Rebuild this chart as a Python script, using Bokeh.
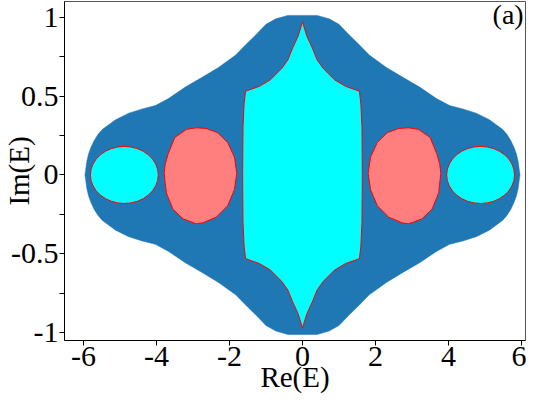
import numpy as np
from bokeh.plotting import figure
from bokeh.models import FixedTicker, Label, Range1d
from bokeh.embed import file_html
from bokeh.resources import INLINE

# ---- data (Re(E), Im(E)) ----
# outer (blue) spectrum boundary, upper-right quadrant, from top to right end
outer_re = [0.00, 0.40, 0.73, 1.00, 1.27, 1.55, 1.83, 2.30, 2.75, 3.21, 3.67,
            4.03, 4.39, 4.76, 5.12, 5.48, 5.60, 5.71, 5.80, 5.86, 5.91, 5.94, 5.96]
outer_im = [1.012, 1.012, 0.990, 0.955, 0.890, 0.827, 0.760, 0.682, 0.619, 0.557, 0.485,
            0.440, 0.419, 0.392, 0.350, 0.289, 0.258, 0.217, 0.172, 0.134, 0.085, 0.031, 0.000]

# central (cyan) region boundary, upper-right quadrant, from cusp to right edge
center_re = [0.00, 0.12, 0.27, 0.40, 0.57, 0.88, 1.18, 1.45, 1.56, 1.60, 1.63, 1.64]
center_im = [0.970, 0.880, 0.805, 0.730, 0.675, 0.603, 0.562, 0.540, 0.530, 0.450, 0.300, 0.000]

# right salmon blob outline (left blob is its mirror image)
blob_re = [1.80, 1.864, 2.05, 2.32, 2.64, 2.91, 3.18, 3.50, 3.68, 3.76, 3.79,
           3.73, 3.55, 3.27, 2.91, 2.73, 2.364, 2.05, 1.864]
blob_im = [0.010, 0.113, 0.206, 0.268, 0.295, 0.299, 0.289, 0.237, 0.134, 0.070, 0.010,
           -0.114, -0.217, -0.279, -0.310, -0.304, -0.268, -0.196, -0.093]

# outer cyan ellipses
ell_x = [-4.88, 4.88]
ell_y = [0.0, 0.0]
ell_w = [1.86, 1.86]
ell_h = [0.362, 0.362]

# axes ticks
x_ticks = [-6, -4, -2, 0, 2, 4, 6]
x_tick_labels = ["-6", "-4", "-2", "0", "2", "4", "6"]
y_ticks = [-1.0, -0.5, 0.0, 0.5, 1.0]
y_tick_labels = ["-1", "-0.5", "0", "0.5", "1"]
y_minor_ticks = [-0.75, -0.25, 0.25, 0.75]


def full_loop(qx, qy):
    qx = np.asarray(qx, dtype=float)
    qy = np.asarray(qy, dtype=float)
    xs = np.concatenate([qx, qx[::-1], -qx, -qx[::-1]])
    ys = np.concatenate([qy, -qy[::-1], -qy, qy[::-1]])
    return xs, ys


FONT = "Liberation Serif"

p = figure(width=526, height=395, output_backend="svg", toolbar_location=None,
           x_range=Range1d(-6.52, 6.11), y_range=Range1d(-1.05, 1.10),
           min_border_left=58, min_border_right=1, min_border_top=1, min_border_bottom=52)
p.grid.grid_line_color = None
p.outline_line_color = "#555555"
p.outline_line_width = 1
p.background_fill_color = "white"
p.border_fill_color = "white"

ox, oy = full_loop(outer_re, outer_im)
p.patch(ox, oy, fill_color="#1f77b4", line_color="#1f77b4", line_width=0.5)

cx, cy = full_loop(center_re, center_im)
p.patch(cx, cy, fill_color="#00ffff", line_color="#ff0000", line_width=1)

br = np.asarray(blob_re)
bi = np.asarray(blob_im)
p.patches([list(br), list(-br)], [list(bi), list(bi)],
          fill_color="#ff7f7f", line_color="#ff0000", line_width=1)

p.ellipse(x=ell_x, y=ell_y, width=ell_w, height=ell_h,
          fill_color="#00ffff", line_color="#ff0000", line_width=1)

# axes
for ax in (p.xaxis[0], p.yaxis[0]):
    ax.axis_line_color = "black"
    ax.major_tick_line_color = "black"
    ax.minor_tick_line_color = "black"
    ax.major_tick_in = 0
    ax.major_tick_out = 5
    ax.minor_tick_in = 0
    ax.minor_tick_out = 5
    ax.major_label_text_font = FONT
    ax.major_label_text_font_size = "30px"
    ax.major_label_text_color = "black"
    ax.major_label_standoff = 1
    ax.axis_label_text_font = FONT
    ax.axis_label_text_font_size = "29px"
    ax.axis_label_text_font_style = "normal"
    ax.axis_label_text_color = "black"

p.xaxis.ticker = FixedTicker(ticks=x_ticks, minor_ticks=[])
p.xaxis.major_label_overrides = {t: s for t, s in zip(x_ticks, x_tick_labels)}
p.yaxis.ticker = FixedTicker(ticks=y_ticks, minor_ticks=y_minor_ticks)
p.yaxis.major_label_overrides = {t: s for t, s in zip(y_ticks, y_tick_labels)}

p.xaxis.axis_label = "Re(E)"
p.xaxis.axis_label_standoff = -8
p.yaxis.axis_label = "Im(E)"
p.yaxis.axis_label_standoff = -27

# panel tag
p.add_layout(Label(x=6.06, y=1.10, y_offset=3, text="(a)",
                   text_align="right", text_baseline="top",
                   text_font=FONT, text_font_size="28px", text_color="black"))

open("out.html", "w").write(file_html(p, INLINE))
